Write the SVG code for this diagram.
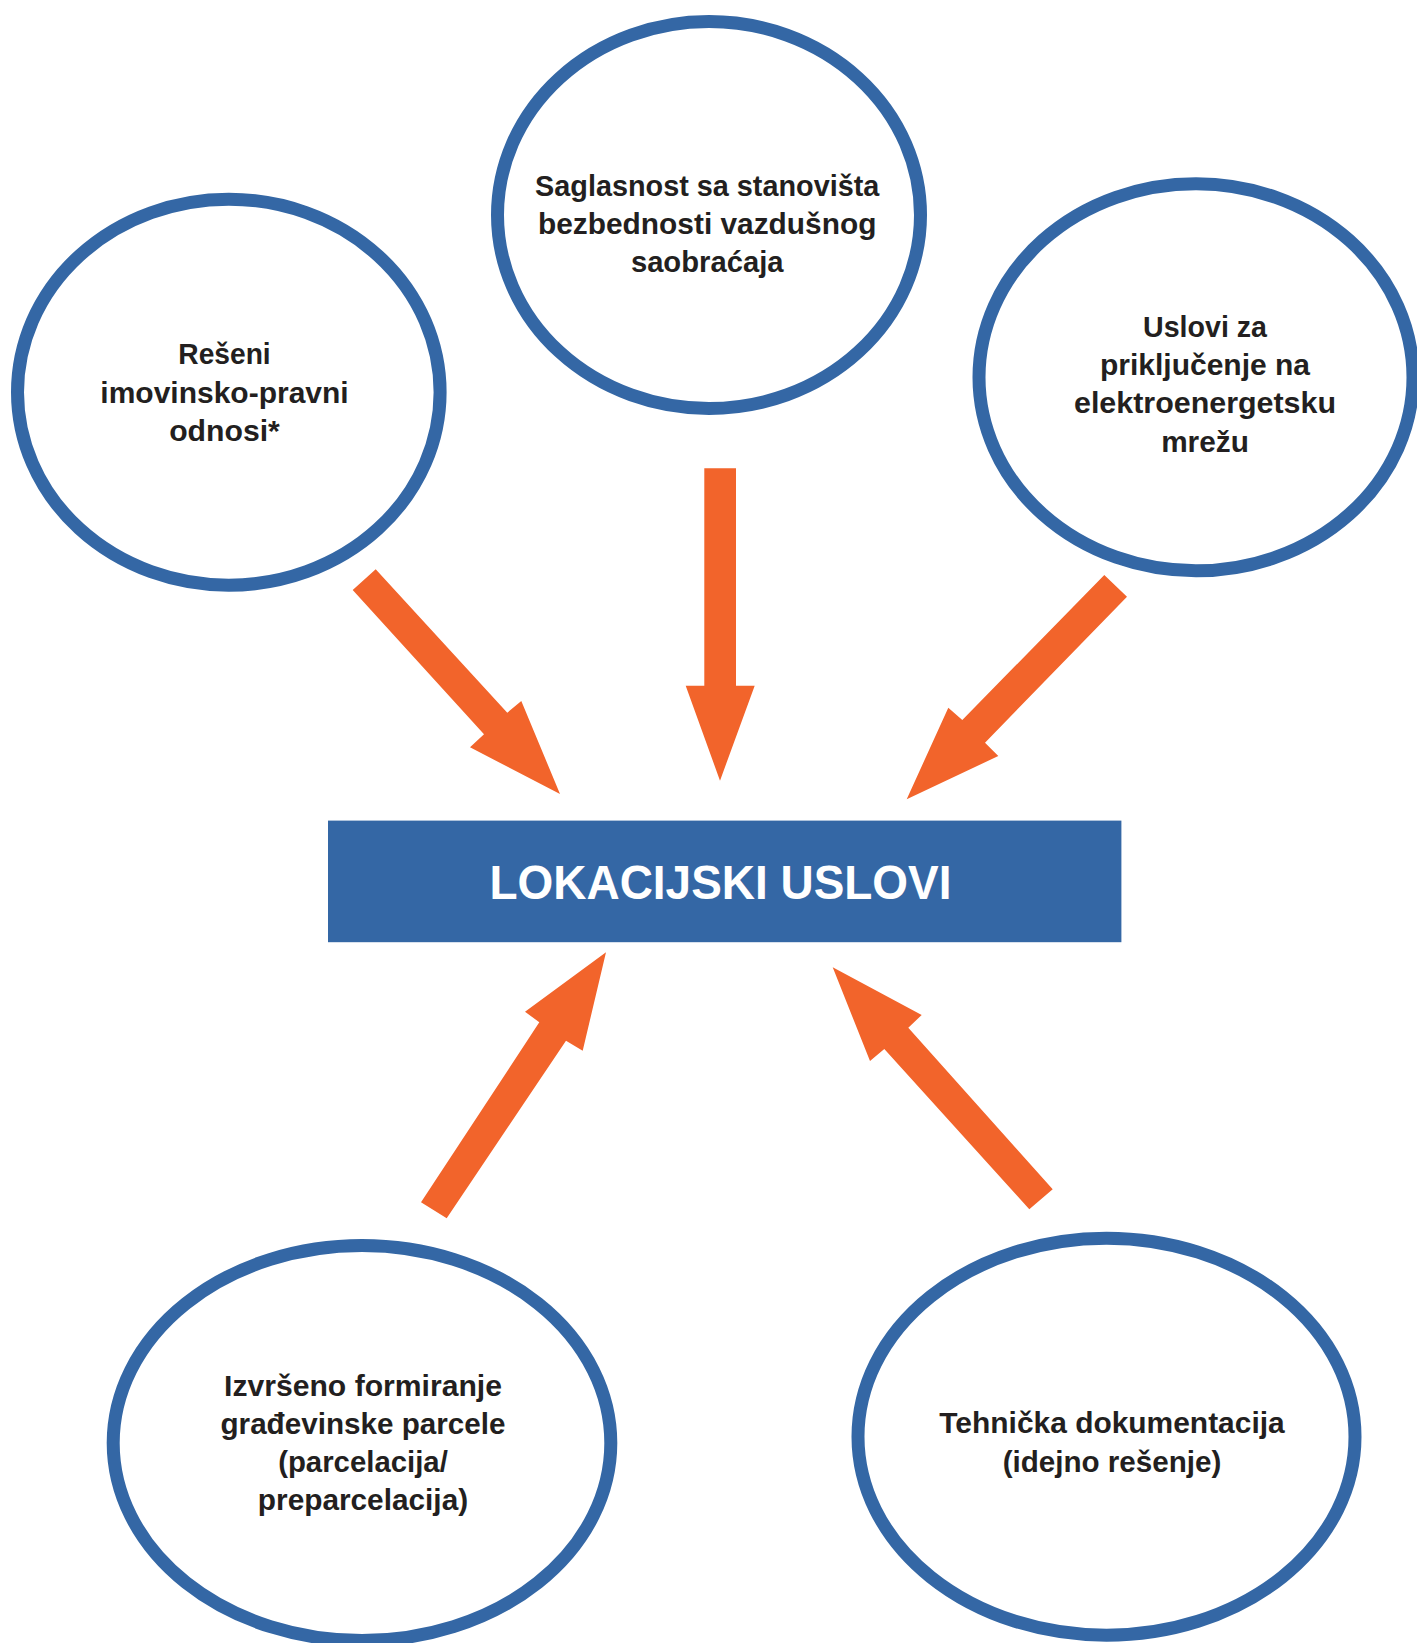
<svg xmlns="http://www.w3.org/2000/svg" width="1417" height="1643" viewBox="0 0 1417 1643">
<style>
.node{fill:#ffffff;stroke:#3467a5;stroke-width:13}
.lbl{font-family:"Liberation Sans",Arial,sans-serif;font-weight:bold;font-size:29px;fill:#231f20;text-anchor:middle}
.arrow{fill:#f2642b}
.main{font-family:"Liberation Sans",Arial,sans-serif;font-weight:bold;font-size:48px;fill:#ffffff;text-anchor:middle}
</style>
<rect x="0" y="0" width="1417" height="1643" fill="#ffffff"/>
<g id="connectors">
<polygon class="arrow" points="352.7,590 375.7,569.3 507.3,712.7 521.3,701 560,794 470,747.3 484,734.3"/>
<polygon class="arrow" points="704.3,468.3 736,468.3 736,685.7 754.7,685.7 720,780.7 685.7,685.7 704.3,685.7"/>
<polygon class="arrow" points="1104.3,575 1127,596.7 985,742.7 998.3,756 906.7,799.3 948.3,707.7 962.3,720"/>
<polygon class="arrow" points="421,1202.3 446.7,1218.3 566,1040.7 582.7,1050.7 606,952.3 525,1011.7 539.3,1022.3"/>
<polygon class="arrow" points="832.7,967.3 921.7,1015 908.3,1027.7 1052.7,1189.3 1029.3,1209.3 884.3,1049 870,1061"/>
</g>
<g id="node-imovinsko">
<ellipse class="node" cx="228.8" cy="392.2" rx="211.3" ry="193"/>
<text class="lbl" x="224.5" y="364.3" textLength="92.4" lengthAdjust="spacingAndGlyphs">Rešeni</text>
<text class="lbl" x="224.5" y="402.5" textLength="248.3" lengthAdjust="spacingAndGlyphs">imovinsko-pravni</text>
<text class="lbl" x="224.5" y="440.5" textLength="110.7" lengthAdjust="spacingAndGlyphs">odnosi*</text>
</g>
<g id="node-saglasnost">
<ellipse class="node" cx="709" cy="215" rx="211.5" ry="193.5"/>
<text class="lbl" x="707.2" y="195.5" textLength="344.3" lengthAdjust="spacingAndGlyphs">Saglasnost sa stanovišta</text>
<text class="lbl" x="707.2" y="233.5" textLength="338.4" lengthAdjust="spacingAndGlyphs">bezbednosti vazdušnog</text>
<text class="lbl" x="707.2" y="271.7" textLength="152.6" lengthAdjust="spacingAndGlyphs">saobraćaja</text>
</g>
<g id="node-uslovi">
<ellipse class="node" cx="1196" cy="377.3" rx="217" ry="193.5"/>
<text class="lbl" x="1205" y="336.7" textLength="124" lengthAdjust="spacingAndGlyphs">Uslovi za</text>
<text class="lbl" x="1205" y="374.8" textLength="210" lengthAdjust="spacingAndGlyphs">priključenje na</text>
<text class="lbl" x="1205" y="413.3" textLength="262" lengthAdjust="spacingAndGlyphs">elektroenergetsku</text>
<text class="lbl" x="1205" y="452.3" textLength="87.7" lengthAdjust="spacingAndGlyphs">mrežu</text>
</g>
<g id="node-lokacijski">
<rect x="328" y="820.6" width="793.4" height="121.6" fill="#3467a5"/>
<text class="main" x="720.5" y="899" textLength="462" lengthAdjust="spacingAndGlyphs">LOKACIJSKI USLOVI</text>
</g>
<g id="node-parcela">
<ellipse class="node" cx="362" cy="1443" rx="248.8" ry="197.5"/>
<text class="lbl" x="363" y="1395.7" textLength="277.9" lengthAdjust="spacingAndGlyphs">Izvršeno formiranje</text>
<text class="lbl" x="363" y="1434" textLength="285" lengthAdjust="spacingAndGlyphs">građevinske parcele</text>
<text class="lbl" x="363" y="1471.7" textLength="169.7" lengthAdjust="spacingAndGlyphs">(parcelacija/</text>
<text class="lbl" x="363" y="1510" textLength="210.3" lengthAdjust="spacingAndGlyphs">preparcelacija)</text>
</g>
<g id="node-tehnicka">
<ellipse class="node" cx="1106.5" cy="1436.7" rx="248.5" ry="198.5"/>
<text class="lbl" x="1112" y="1433.3" textLength="345.4" lengthAdjust="spacingAndGlyphs">Tehnička dokumentacija</text>
<text class="lbl" x="1112" y="1471.7" textLength="218.7" lengthAdjust="spacingAndGlyphs">(idejno rešenje)</text>
</g>
</svg>
